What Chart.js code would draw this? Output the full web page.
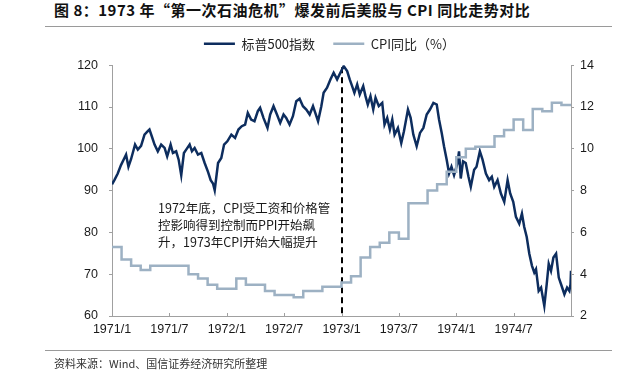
<!DOCTYPE html>
<html>
<head>
<meta charset="utf-8">
<script src="https://cdn.jsdelivr.net/npm/chart.js@4.4.1/dist/chart.umd.min.js"></script>
<style>
  body { margin: 0; background: #fff; }
  #wrap { position: relative; width: 623px; height: 378px; overflow: hidden; }
  #chart { position: absolute; left: 0; top: 0; }
  .title { position: absolute; left: 54px; top: 0; font: bold 15px "Noto Sans CJK SC", "Liberation Sans", sans-serif; letter-spacing: 0.5px; line-height: 20px; color: #111; white-space: nowrap; }
  .rule { position: absolute; left: 45px; width: 567px; height: 1px; background: #9a9a9a; }
  .note { position: absolute; left: 158px; top: 200px; font: 12.5px "Noto Sans CJK SC", "Liberation Sans", sans-serif; line-height: 16.8px; color: #1a1a1a; white-space: nowrap; }
  .source { position: absolute; left: 54px; top: 355px; font: 11px "Noto Sans CJK SC", "Liberation Sans", sans-serif; line-height: 16px; color: #333; white-space: nowrap; }
</style>
</head>
<body>
<div id="wrap">
  <div class="title">图 8：1973 年“第一次石油危机”爆发前后美股与 CPI 同比走势对比</div>
  <div class="rule" style="top:26px"></div>
  <canvas id="chart" width="623" height="378"></canvas>
  <div class="note">1972年底，CPI受工资和价格管<br>控影响得到控制而PPI开始飙<br>升，1973年CPI开始大幅提升</div>
  <div class="rule" style="top:350px"></div>
  <div class="source">资料来源：Wind、国信证券经济研究所整理</div>
</div>
<script>
// 横轴：以1971/1为0的月份数
const xTickLabels = ['1971/1', '1971/7', '1972/1', '1972/7', '1973/1', '1973/7', '1974/1', '1974/7'];
const eventMonth = 24; // 1973/1

// 标普500指数
const spxMonth = [
  0, 0.25, 0.6, 0.94, 1.3, 1.47, 1.72, 1.99, 2.17, 2.41,
  2.7, 3.04, 3.4, 3.74, 3.92, 4.16, 4.45, 4.79, 5.14, 5.5,
  5.77, 6.13, 6.37, 6.71, 6.97, 7.24, 7.52, 7.76, 8.12, 8.36,
  8.64, 8.99, 9.34, 9.69, 10.04, 10.32, 10.56, 10.74, 11.09, 11.43,
  11.72, 12.06, 12.48, 12.87, 13.22, 13.57, 13.92, 14.2, 14.55, 14.9,
  15.25, 15.49, 15.84, 16.26, 16.54, 16.89, 17.25, 17.59, 17.94, 18.22,
  18.57, 18.92, 19.27, 19.62, 19.97, 20.32, 20.67, 21.02, 21.26, 21.55,
  21.89, 22.13, 22.49, 22.84, 23.18, 23.54, 23.88, 24.23, 24.59, 24.86,
  25.11, 25.35, 25.64, 25.91, 26.27, 26.51, 26.75, 27.03, 27.32, 27.56,
  27.9, 28.26, 28.5, 28.78, 29.06, 29.31, 29.55, 29.9, 30.25, 30.53,
  30.95, 31.23, 31.51, 31.86, 32.21, 32.56, 32.91, 33.25, 33.61, 33.96,
  34.2, 34.48, 34.72, 35, 35.25, 35.5, 35.77, 36.12, 36.29, 36.47,
  36.71, 36.99, 37.28, 37.52, 37.87, 38.12, 38.47, 38.75, 39.1, 39.44,
  39.72, 39.97, 40.32, 40.67, 41.02, 41.37, 41.64, 41.96, 42.24, 42.59,
  42.87, 43.11, 43.37, 43.64, 43.92, 44.16, 44.34, 44.62, 44.87, 45.21,
  45.46, 45.67, 45.91, 46.16, 46.44, 46.72, 46.96, 47.31, 47.59, 47.83,
  47.95, 48
];
const spxValue = [
  91.5, 92.5, 94.1, 96.1, 97.8, 98.6, 95.7, 97.5, 99, 101,
  99.8, 100.7, 103.4, 104.2, 104.6, 103, 101, 99.4, 101, 100.2,
  98.2, 101, 99, 99.4, 97.4, 93.7, 99, 99.8, 101, 99.4,
  100.2, 98.6, 99, 96.6, 94.5, 92.5, 91.7, 90.1, 96.6, 97.8,
  101, 101.8, 103.4, 102.6, 104.6, 105.4, 105.8, 108.6, 107, 106.6,
  109, 109.8, 107.4, 105, 108.2, 110.2, 108.2, 106.2, 108.2, 107.4,
  105.8, 107.8, 111.4, 112, 110.2, 109.4, 108.2, 110.2, 108.6, 106.6,
  110.2, 113.4, 114.6, 116.6, 118.2, 116.6, 118.2, 119.8, 118.6, 116.6,
  115, 113.4, 115.4, 113, 115, 112.6, 110.6, 112.6, 109.4, 112.2,
  110.2, 111, 105.8, 107.4, 104.6, 107, 103.4, 105, 101.4, 104.2,
  109.4, 107.4, 103.4, 100.6, 103.8, 105, 108.2, 109.4, 111, 110.6,
  107, 103.8, 100.6, 97.4, 94.1, 95.7, 93.7, 96.5, 99.4, 92.9,
  97, 96.6, 93.3, 90.9, 95, 95.7, 99.4, 97.4, 94.1, 92.5,
  93.3, 90.9, 92.5, 89.3, 87.3, 92.5, 89.3, 87.3, 83.7, 82.1,
  84.5, 81.3, 78.9, 74.9, 72, 70.4, 71.2, 66, 66.8, 62.4,
  67.6, 72.5, 70.8, 74, 74.9, 69.2, 67.6, 65.2, 66.8, 66,
  67.6, 70.8
];

// CPI同比（%），每月一个值，1971/1 起
const cpiValue = [
  5.3, 4.7, 4.4, 4.2, 4.4, 4.4, 4.4, 4.4, 4.0, 3.8, 3.5, 3.3,
  3.3, 3.8, 3.5, 3.5, 3.2, 3.0, 3.0, 2.9, 3.2, 3.2, 3.4, 3.4,
  3.6, 3.9, 4.8, 5.3, 5.5, 6.0, 5.7, 7.4, 7.4, 8.0, 8.3, 8.9,
  9.6, 10.0, 10.1, 10.1, 10.6, 10.9, 11.4, 10.9, 11.9, 11.8, 12.2, 12.1
];

const spxPoints = spxMonth.map((m, i) => ({ x: m, y: spxValue[i] }));
const cpiPoints = cpiValue.map((v, i) => ({ x: i, y: v }));
cpiPoints.push({ x: cpiValue.length, y: cpiValue[cpiValue.length - 1] }); // 最后一个月画满

const navy = '#0d2d5e';
const steel = '#9db1c3';
const axisGray = '#a0a0a0';
const tickFont = { family: '"Liberation Sans", Arial, sans-serif', size: 12.5 };

// 图例下方多留一点空
const legendGap = {
  id: 'legendGap',
  beforeInit(chart) {
    const fit = chart.legend.fit;
    chart.legend.fit = function () {
      fit.call(this);
      this.height += 5;
    };
  }
};

// 1973/1 虚线 + 横轴向内的刻度
const extras = {
  id: 'extras',
  beforeDatasetsDraw(chart) {
    const { ctx, chartArea, scales } = chart;
    const x = Math.round(scales.x.getPixelForValue(eventMonth));
    ctx.save();
    ctx.strokeStyle = '#000';
    ctx.lineWidth = 2;
    ctx.setLineDash([6, 4]);
    ctx.beginPath();
    ctx.moveTo(x, chartArea.top + 2);
    ctx.lineTo(x, chartArea.bottom);
    ctx.stroke();
    ctx.restore();
  },
  afterDraw(chart) {
    const { ctx, chartArea, scales } = chart;
    ctx.save();
    ctx.strokeStyle = axisGray;
    ctx.lineWidth = 1;
    scales.x.ticks.forEach(t => {
      const x = Math.round(scales.x.getPixelForValue(t.value)) + 0.5;
      ctx.beginPath();
      ctx.moveTo(x, chartArea.bottom);
      ctx.lineTo(x, chartArea.bottom - 3);
      ctx.stroke();
    });
    ctx.restore();
  }
};

new Chart(document.getElementById('chart'), {
  type: 'line',
  data: {
    datasets: [
      {
        label: '标普500指数',
        data: spxPoints,
        yAxisID: 'y',
        borderColor: navy,
        backgroundColor: navy,
        borderWidth: 2.5,
        pointRadius: 0,
        tension: 0,
        order: 1
      },
      {
        label: 'CPI同比（%）',
        data: cpiPoints,
        yAxisID: 'y1',
        borderColor: steel,
        backgroundColor: steel,
        borderWidth: 2.5,
        pointRadius: 0,
        stepped: true,
        order: 0
      }
    ]
  },
  plugins: [legendGap, extras],
  options: {
    responsive: false,
    animation: false,
    devicePixelRatio: 1,
    layout: { padding: { left: 36, right: 0, top: 19, bottom: 0 } },
    plugins: {
      tooltip: { enabled: false },
      legend: {
        position: 'top',
        labels: {
          usePointStyle: true,
          pointStyle: 'line',
          pointStyleWidth: 31,
          boxHeight: 13,
          padding: 18.2,
          color: '#222',
          font: { family: '"Noto Sans CJK SC", "Liberation Sans", sans-serif', size: 13 },
          sort: (a, b) => a.datasetIndex - b.datasetIndex
        }
      }
    },
    scales: {
      x: {
        type: 'linear',
        min: 0,
        max: 48,
        afterFit: s => { s.height = 62; },
        border: { display: true, color: axisGray },
        grid: { display: true, drawOnChartArea: false, drawTicks: false },
        ticks: {
          stepSize: 6,
          padding: 6,
          maxRotation: 0,
          color: '#1a1a1a',
          font: tickFont,
          callback: v => xTickLabels[v / 6] || ''
        }
      },
      y: {
        position: 'left',
        min: 60,
        max: 120,
        afterFit: s => { s.width = 76; },
        border: { display: true, color: axisGray },
        grid: { drawOnChartArea: false, tickLength: 3, color: axisGray },
        ticks: { stepSize: 10, padding: 11, color: '#1a1a1a', font: tickFont }
      },
      y1: {
        position: 'right',
        min: 2,
        max: 14,
        afterFit: s => { s.width = 52; },
        border: { display: true, color: axisGray },
        grid: { drawOnChartArea: false, tickLength: 3, color: axisGray },
        ticks: { stepSize: 2, padding: 6, color: '#1a1a1a', font: tickFont }
      }
    }
  }
});
</script>
</body>
</html>
